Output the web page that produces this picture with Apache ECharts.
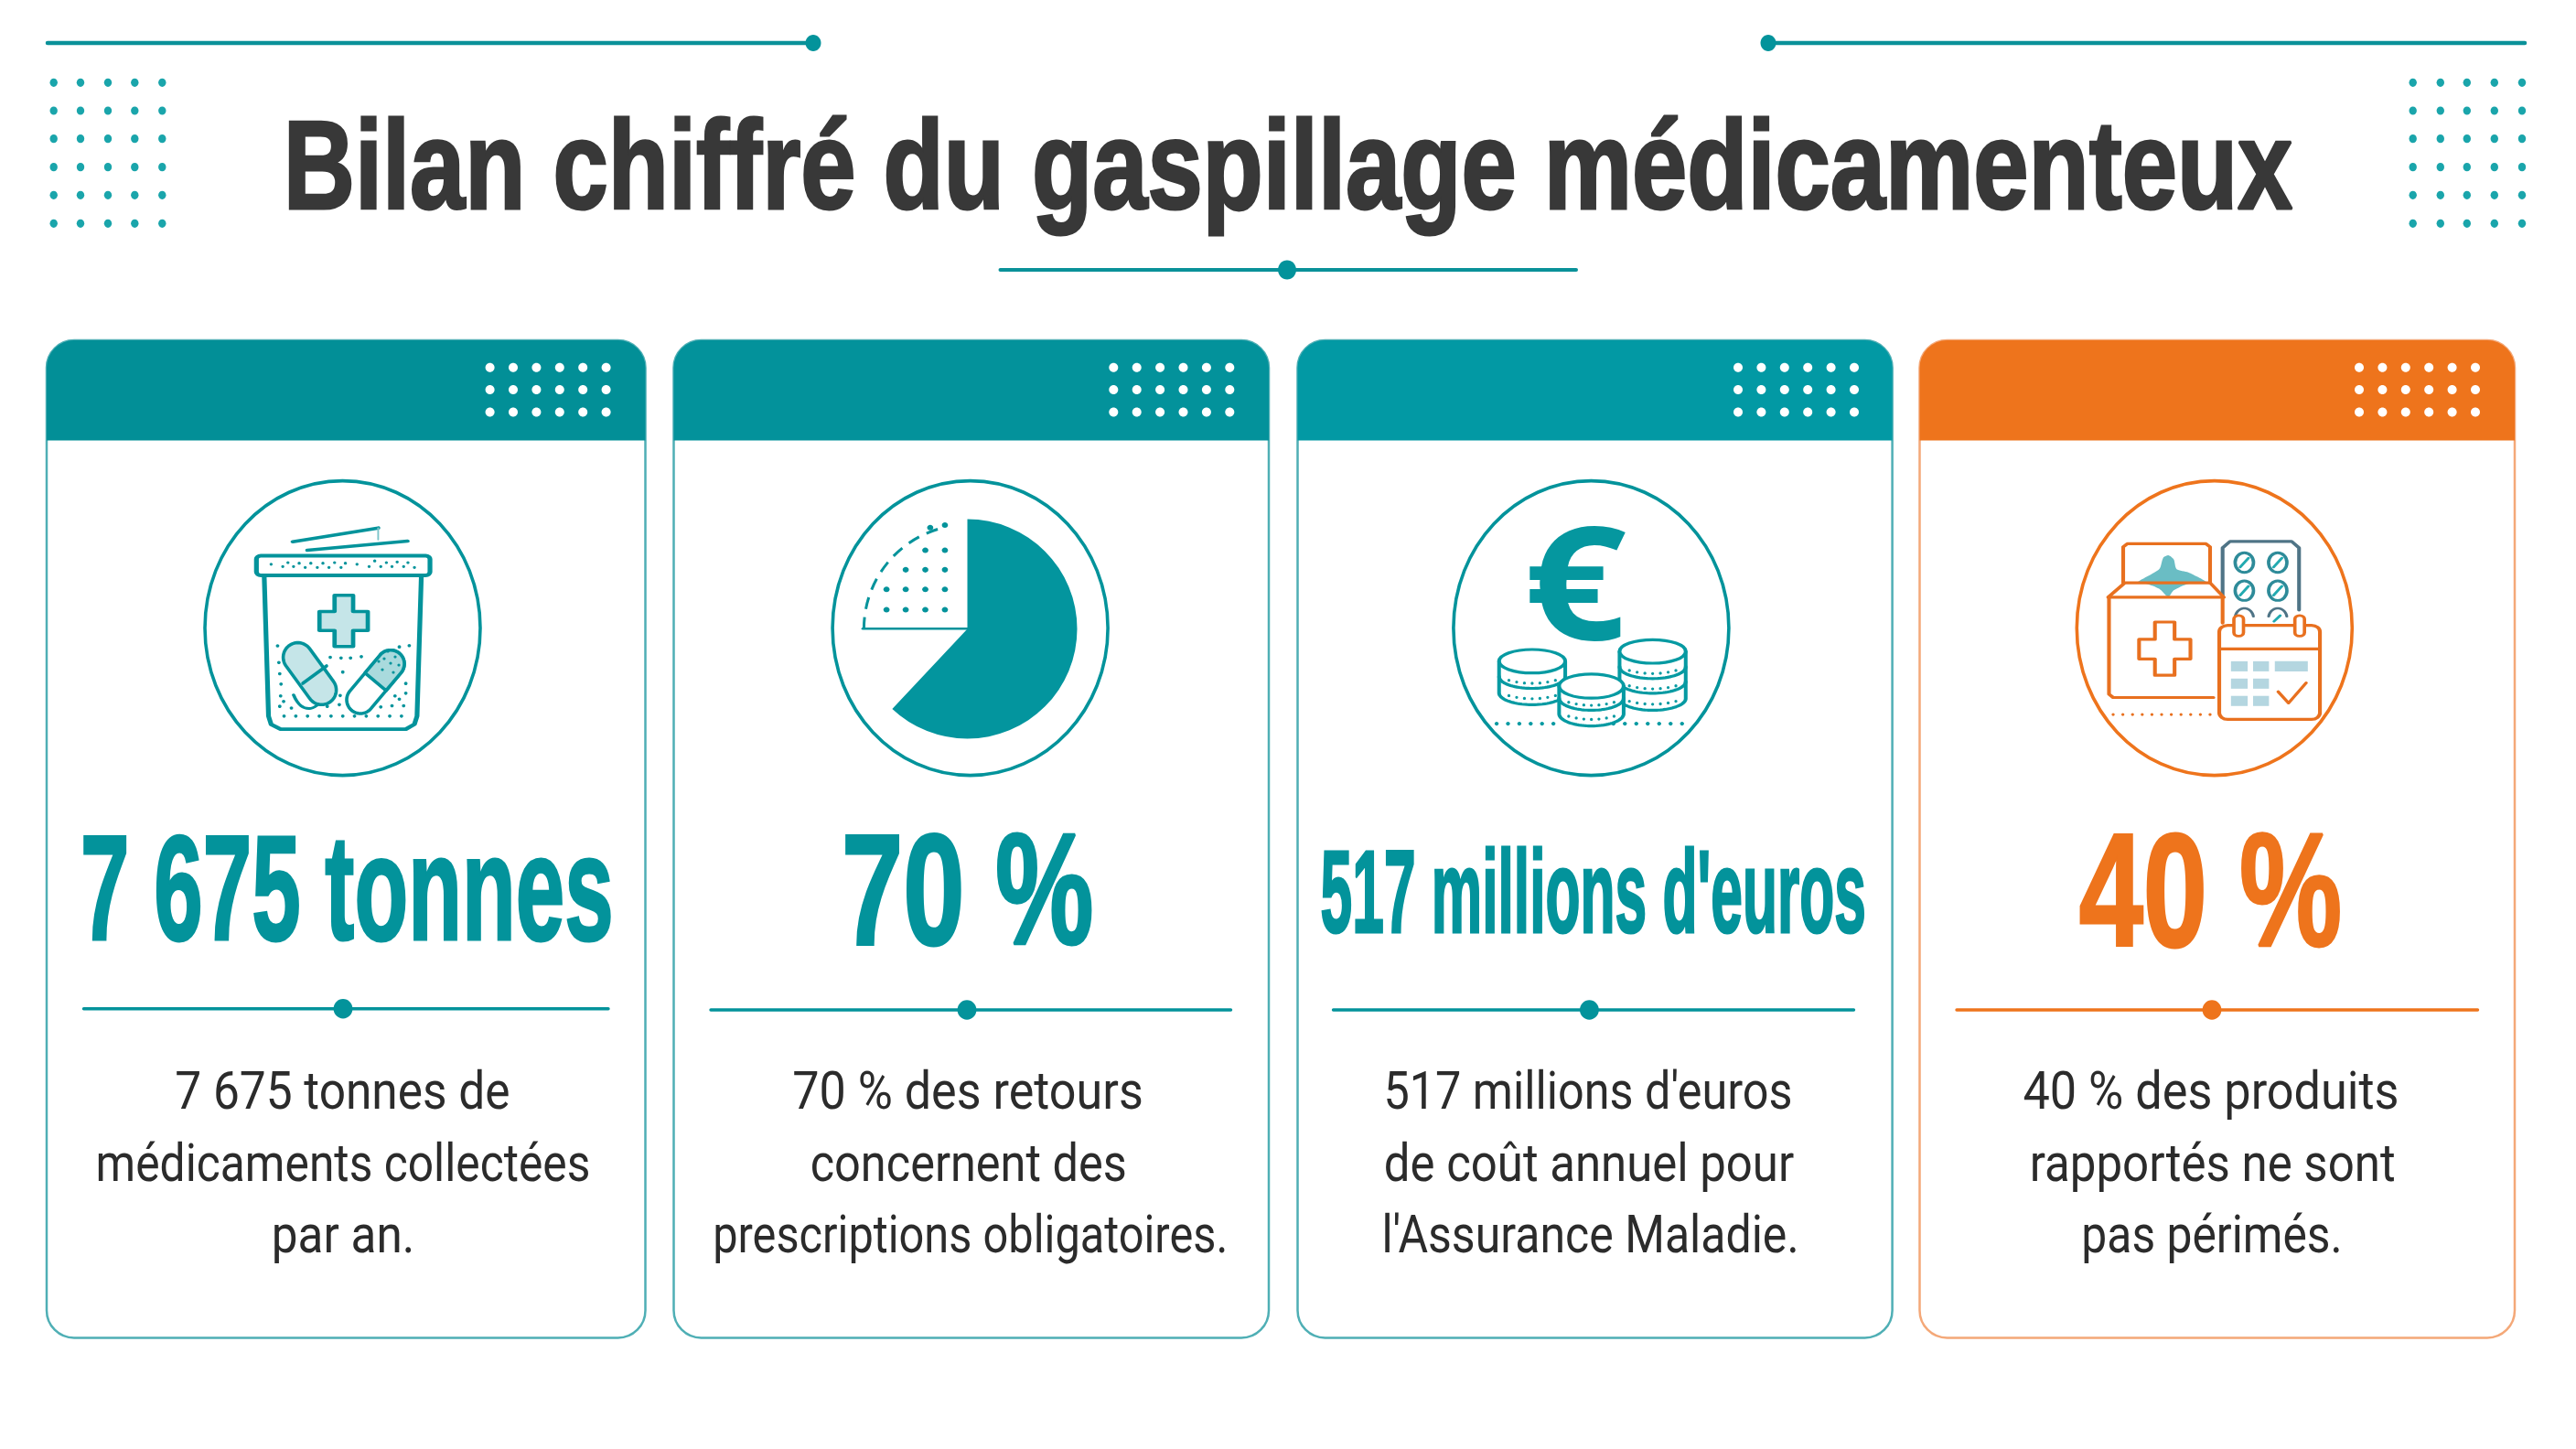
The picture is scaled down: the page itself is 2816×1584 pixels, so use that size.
<!DOCTYPE html>
<html>
<head>
<meta charset="utf-8">
<script src="https://cdn.jsdelivr.net/npm/echarts@6/dist/echarts.min.js"></script>
<style>
  html, body { margin: 0; padding: 0; background: #fff; }
  #main { width: 2816px; height: 1584px; }
</style>
</head>
<body>
<div id="main"></div>
<script>
const pageTitle = 'Bilan chiffré du gaspillage médicamenteux';
const cardValues = ['7 675 tonnes', '70 %', "517 millions d'euros", '40 %'];
const cardLines = [
  ['7 675 tonnes de', 'médicaments collectées', 'par an.'],
  ['70 % des retours', 'concernent des', 'prescriptions obligatoires.'],
  ["517 millions d'euros", 'de coût annuel pour', "l'Assurance Maladie."],
  ['40 % des produits', 'rapportés ne sont', 'pas périmés.']
];
// pie icon of card 2: filled, gap, dotted quarter
const pieShares = [62, 13, 25];

const teal = '#03939B';
const orange = '#EE741C';
const ink = '#2B2B2B';
const lightTeal = '#C5E5E8';

// layout, one row per card
const cardBoxes = [
  { x0: 51, x1: 705.5, head: '#028F97', border: '#4FAFB5', main: teal, cx: 374.5, lineX0: 91.5, lineX1: 665, dotX: 375, dotsX: 535.6, lineY: 1102.7,
    value: { base: 1026.6, fs: 163, w: 574.6, x: 379.3 } },
  { x0: 736.5, x1: 1387, head: '#03929B', border: '#4FAFB5', main: teal, cx: 1060.6, lineX0: 777, lineX1: 1345.5, dotX: 1057, dotsX: 1217.3, lineY: 1104,
    value: { base: 1032, fs: 172, w: 268, x: 1057.8 } },
  { x0: 1418.5, x1: 2068.6, head: '#0299A4', border: '#4FAFB5', main: teal, cx: 1739.4, lineX0: 1457.5, lineX1: 2026.5, dotX: 1737.4, dotsX: 1900, lineY: 1104,
    value: { base: 1018.5, fs: 128, w: 592.4, x: 1741.8 } },
  { x0: 2098.5, x1: 2749, head: '#EE741C', border: '#F4A878', main: orange, cx: 2420.8, lineX0: 2139, lineX1: 2708.5, dotX: 2418, dotsX: 2579, lineY: 1104,
    value: { base: 1034, fs: 176, w: 283, x: 2416.5 } }
];
// ink width and centre of each description line, in page pixels
const lineWidths = [[363, 536.6, 150], [380, 342.6, 557], [442, 446, 449], [408.5, 394.6, 279]];
const lineCentres = [[374.4, 375, 375], [1058, 1058.7, 1060.7], [1736, 1737, 1738.5], [2417, 2418.7, 2418]];

const measure = document.createElement('canvas').getContext('2d');

function txt(str, cx, base, fs, weight, family, fill, targetW, bold) {
  const font = weight + ' ' + fs + 'px "' + family + '"';
  measure.font = font;
  measure.textBaseline = 'middle';
  const m = measure.measureText(str);
  const below = measure.measureText('H').actualBoundingBoxDescent;
  const width = m.actualBoundingBoxLeft + m.actualBoundingBoxRight;
  const style = { text: str, x: 0, y: 0, font: font, fill: fill, align: 'center', verticalAlign: 'middle', textAlign: 'center', textVerticalAlign: 'middle' };
  if (bold) {
    style.stroke = fill;
    style.lineWidth = bold;
    style.lineJoin = 'round';
  }
  return { type: 'text', x: cx, y: base - below, scaleX: targetW / width, style: style };
}
function ell(x, y, rx, ry, fill, stroke, lw) {
  return { type: 'ellipse', shape: { cx: x, cy: y, rx: rx, ry: ry }, style: { fill: fill || 'none', stroke: stroke || 'none', lineWidth: lw || 0 } };
}
function poly(pts, stroke, lw, smooth) {
  return { type: 'polyline', shape: { points: pts, smooth: smooth || 0 }, style: { stroke: stroke, lineWidth: lw, fill: 'none', lineCap: 'round', lineJoin: 'round' } };
}
function gon(pts, fill, stroke, lw, smooth) {
  return { type: 'polygon', shape: { points: pts, smooth: smooth || 0 }, style: { fill: fill, stroke: stroke || 'none', lineWidth: lw || 0, lineJoin: 'round' } };
}
function box(x, y, w, h, r, fill, stroke, lw) {
  return { type: 'rect', shape: { x: x, y: y, width: w, height: h, r: r }, style: { fill: fill || 'none', stroke: stroke || 'none', lineWidth: lw || 0 } };
}
function arcPts(cx, cy, rx, ry, a0, a1) {
  const pts = [];
  for (let i = 0; i <= 40; i++) {
    const a = (a0 + (a1 - a0) * i / 40) * Math.PI / 180;
    pts.push([cx + rx * Math.cos(a), cy + ry * Math.sin(a)]);
  }
  return pts;
}
function dots(list, rx, ry, fill) {
  return list.map(p => ell(p[0], p[1], rx, ry, fill));
}
function rowDots(x0, x1, step, y, rx, ry, fill) {
  const list = [];
  for (let x = x0; x <= x1 + 0.1; x += step) list.push([x, y]);
  return dots(list, rx, ry, fill);
}
// capsule outline between two cap centres, half=1 for the c1 half only
function capsule(c1, c2, r, half) {
  const ang = Math.atan2(c2[1] - c1[1], c2[0] - c1[0]) * 180 / Math.PI;
  const mid = [(c1[0] + c2[0]) / 2, (c1[1] + c2[1]) / 2];
  const a = arcPts(c1[0], c1[1], r, r, ang + 90, ang + 270);
  if (half) {
    const n = [Math.cos((ang + 90) * Math.PI / 180) * r, Math.sin((ang + 90) * Math.PI / 180) * r];
    return a.concat([[mid[0] - n[0], mid[1] - n[1]], [mid[0] + n[0], mid[1] + n[1]]]);
  }
  return a.concat(arcPts(c2[0], c2[1], r, r, ang - 90, ang + 90));
}
function zoomGroup(x, y, sx, sy, children) {
  return { type: 'group', x: x, y: y, scaleX: sx, scaleY: sy, children: children };
}

function binIcon() {
  const c = teal;
  const scatter = [[643,1025],[646,1076],[648,1110],[651,1142],[650,1178],[648,1210],[675,1215],[657,1195],[765,1060],[790,1062],[812,1062],[837,1058],[794,1105],[788,1177],[786,1205],[758,1210],[882,1212],[908,1208],[935,1208],[925,1188],[915,1178],[940,1170],[940,1140],[925,1028],[948,1024]];
  const lidDots = [[628,775],[655,782],[667,770],[680,782],[693,772],[707,785],[720,772],[735,785],[748,772],[762,785],[775,770],[790,785],[800,772],[827,775],[855,782],[868,765],[882,782],[895,770],[908,782],[920,768],[935,782],[945,770],[960,785]];
  const zoomed = zoomGroup(0, 340, 1 / 2.119, 1 / 2.8, [
    poly([[678,706],[876,664]], c, 10),
    poly([[712,732],[944,704]], c, 10),
    poly([[876,664],[876,700]], '#7CC4C9', 4),
    poly([[612,810],[622,1240],[628,1265],[650,1280],[940,1280],[960,1265],[966,1240],[976,810]], c, 11),
    box(594, 749, 402, 60, 10, '#fff', c, 11)
  ].concat(dots(lidDots, 3.6, 4.5, c)).concat([
    gon([[775,870],[818,870],[818,920],[852,920],[852,978],[818,978],[818,1027],[775,1027],[775,978],[740,978],[740,920],[775,920]], lightTeal, c, 10)
  ]).concat(dots(scatter, 4, 5, c)).concat(rowDots(658, 930, 27.2, 1240, 4, 5, c)).concat([
    poly([[680,1175],[697,1208],[720,1216],[740,1200]], c, 8, 0.4)
  ]));
  const a1 = [325.6, 718.6], a2 = [351.6, 754.3], b1 = [427, 725.7], b2 = [394, 765];
  const pills = [
    gon(capsule(a1, a2, 16), lightTeal, c, 3.6),
    poly([[331, 747], [357, 728]], c, 3.6),
    gon(capsule(b1, b2, 15), '#fff', c, 3.6),
    gon(capsule(b1, b2, 15, 1), '#A9DADD', c, 3.6)
  ].concat(dots([[420,720],[427,725],[432,718],[418,732],[430,735],[424,712],[436,727],[414,723]], 1.6, 1.6, c));
  return [zoomed].concat(pills);
}

function pieIcon() {
  const c = teal;
  const grid = [[701,732],[653,732],[701,792],[653,792],[605,792],[701,852],[653,852],[605,852],[558,852],[701,914],[653,914],[605,914],[558,914],[701,655],[665,663]];
  return [
    zoomGroup(720, 340, 1 / 2.24, 1 / 2.8, dots(grid, 7.5, 8.5, c).concat([poly([[500,972],[758,972]], c, 7)])),
    { type: 'arc', shape: { cx: 1058.4, cy: 687.5, r: 114, startAngle: Math.PI, endAngle: Math.PI * 1.42, clockwise: true },
      style: { stroke: c, lineWidth: 3, fill: 'none', lineDash: [13, 9] } }
  ];
}

function coinStack(cx, cy, rx, ry, bands, rows) {
  const c = '#069AA2';
  const h = bands[bands.length - 1];
  const bodyPts = [[cx - rx, cy]].concat(arcPts(cx, cy + h, rx, ry, 180, 0)).concat([[cx + rx, cy]]);
  let out = [gon(bodyPts, '#fff', c, 9)];
  bands.slice(0, -1).forEach(b => out.push(poly(arcPts(cx, cy + b, rx, ry, 180, 0), c, 9)));
  rows.forEach(y => {
    for (let i = 0; i < 7; i++) {
      const t = -1 + (i + 0.5) / 3.5;
      out.push(ell(cx + t * rx * 0.82, y + ry * 0.35 * (1 - t * t) - 6, 3.6, 4.6, c));
    }
  });
  out.push(ell(cx, cy, rx, ry, '#fff', c, 9));
  return out;
}
function coinsIcon() {
  const c = '#069AA2';
  const zoomed = zoomGroup(1420, 340, 1 / 2.24, 1 / 2.8,
    rowDots(484, 650, 27.8, 1263, 5, 6, c)
      .concat(rowDots(770, 938, 28, 1263, 5, 6, c))
      .concat(coinStack(571, 1072, 81, 36, [47, 97], [1133, 1180]))
      .concat(coinStack(866, 1042, 81, 36, [47, 92, 144], [1103, 1150, 1197]))
      .concat(coinStack(716, 1148, 79, 37, [37, 85], [1200, 1243]))
  );
  return [zoomed, txt('€', 1722, 699, 172, 700, 'Open Sans', '#05979F', 105)];
}

function boxIcon() {
  const o = '#E8701F';
  const slate = '#4F7486';
  const pill = '#2E8B99';
  const slash = '#22AAB0';
  const cell = '#B4D6E0';
  const pillCenters = [[774,770],[854,770],[774,856],[854,856]];
  let pills = [];
  pillCenters.forEach(p => {
    pills.push(ell(p[0], p[1], 22, 30, '#fff', pill, 8));
    pills.push(poly([[p[0] - 10, p[1] + 14], [p[0] + 10, p[1] - 14]], slash, 7));
  });
  const children = [
    poly(arcPts(774, 940, 22, 30, 190, 350), slate, 7),
    poly(arcPts(854, 940, 22, 30, 190, 350), slate, 7),
    poly([[845,950],[860,932]], slash, 7),
    poly([[722,870],[722,725],[740,705],[887,705],[905,725],[905,915]], slate, 9)
  ].concat(pills).concat([
    poly([[484,832],[484,722],[494,712],[682,712],[692,722],[692,832]], o, 9),
    gon([[516,832],[570,790],[580,755],[593,748],[605,760],[612,790],[640,800],[685,832],[640,835],[605,855],[592,875],[570,850],[540,835]], '#6ABDC4', null, 0, 0.25),
    poly([[448,876],[488,832],[692,832],[725,876]], o, 9),
    poly([[700,1183],[460,1183],[450,1173],[450,876],[722,876],[722,955]], o, 9),
    gon([[560,952],[607,952],[607,1005],[645,1005],[645,1065],[607,1065],[607,1115],[560,1115],[560,1065],[522,1065],[522,1005],[560,1005]], 'none', o, 9)
  ]).concat(rowDots(460, 692, 23.2, 1235, 3.6, 4.6, o)).concat([
    box(714, 962, 241, 288, 20, '#fff', o, 9),
    poly([[716,1034],[952,1034]], o, 9),
    box(749, 932, 23, 63, 11, '#fff', o, 8),
    box(895, 932, 23, 63, 11, '#fff', o, 8),
    box(742, 1072, 40, 31, 0, cell),
    box(795, 1072, 38, 31, 0, cell),
    box(847, 1072, 79, 31, 0, cell),
    box(742, 1125, 40, 31, 0, cell),
    box(795, 1125, 38, 31, 0, cell),
    box(742, 1178, 40, 31, 0, cell),
    box(795, 1178, 38, 31, 0, cell),
    poly([[855,1165],[880,1200],[922,1138]], o, 8)
  ]);
  return [zoomGroup(2100, 340, 1 / 2.19, 1 / 2.8, children)];
}

const icons = [binIcon, pieIcon, coinsIcon, boxIcon];

let graphics = [];

// page decoration and title
graphics.push(poly([[52, 47], [889, 47]], '#0A9199', 4.5));
graphics.push(ell(889, 47, 8.5, 9, '#03939B'));
graphics.push(poly([[1933, 47], [2760, 47]], '#0A9199', 4.5));
graphics.push(ell(1933, 47, 8.5, 9, '#03939B'));
graphics.push(poly([[1093.5, 295], [1723, 295]], '#0A9199', 4));
graphics.push(ell(1407, 295, 10, 10.5, '#03939B'));
const dotRows = [90.3, 121, 151.7, 182.7, 213.3, 244.3];
[[58.7, 88, 118, 147.3, 177.3], [2637.7, 2667.8, 2696.8, 2726.8, 2757]].forEach(cols => {
  cols.forEach(x => dotRows.forEach(y => graphics.push(ell(x, y, 4.2, 4.6, '#1AA5AB'))));
});
graphics.push(txt(pageTitle, 1408, 228, 138, 700, 'Liberation Sans', '#383838', 2189, 3));

// cards
cardBoxes.forEach((b, i) => {
  const top = 372, headBottom = 481.5, bottom = 1462.5;
  graphics.push(box(b.x0, top, b.x1 - b.x0, bottom - top, 30, '#fff', b.border, 2.5));
  graphics.push(box(b.x0, top, b.x1 - b.x0, headBottom - top, [30, 30, 0, 0], b.head));
  for (let col = 0; col < 6; col++) {
    [401.8, 426, 450.4].forEach(y => {
      graphics.push(ell(b.dotsX + col * 25.4, y, 5, 5, '#fff'));
    });
  }
  graphics.push(ell(b.cx, 686.6, 150.5, 161, '#fff', b.main, 3.6));
  graphics = graphics.concat(icons[i]());
  const v = b.value;
  graphics.push(txt(cardValues[i], v.x, v.base, v.fs, 700, 'Liberation Sans', b.main, v.w, 3));
  graphics.push(poly([[b.lineX0, b.lineY], [b.lineX1, b.lineY]], b.main, 3.4));
  graphics.push(ell(b.dotX, b.lineY, 10.4, 10.7, b.main));
  const bases = [1212, 1290.6, 1369];
  cardLines[i].forEach((line, j) => {
    graphics.push(txt(line, lineCentres[i][j], bases[j], 58, 400, 'Roboto', ink, lineWidths[i][j]));
  });
});

const chart = echarts.init(document.getElementById('main'), null, { renderer: 'canvas' });
chart.setOption({
  animation: false,
  backgroundColor: '#fff',
  graphic: { elements: graphics },
  series: [{
    type: 'pie',
    center: [1057.5, 687.5],
    radius: [0, 120],
    startAngle: 90,
    clockwise: true,
    silent: true,
    label: { show: false },
    labelLine: { show: false },
    itemStyle: { borderWidth: 0 },
    data: pieShares.map((v, i) => ({
      value: v,
      itemStyle: { color: i === 0 ? '#03959E' : 'rgba(0,0,0,0)' }
    }))
  }]
});
</script>
</body>
</html>
